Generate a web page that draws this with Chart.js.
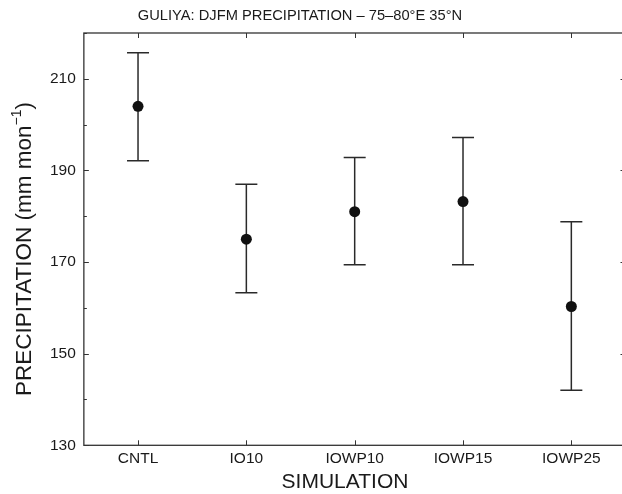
<!DOCTYPE html>
<html>
<head>
<meta charset="utf-8">
<script src="https://cdn.jsdelivr.net/npm/chart.js@4.4.1/dist/chart.umd.min.js"></script>
<style>
  html, body { margin: 0; padding: 0; background: #fff; overflow: hidden; }
  canvas { display: block; }
</style>
</head>
<body>
<canvas id="c" width="638" height="494"></canvas>
<script>
// ---- data ----
const chartTitle = 'GULIYA: DJFM PRECIPITATION \u2013 75\u201380\u00B0E 35\u00B0N';
const xTitle = 'SIMULATION';
const yTitleMain = 'PRECIPITATION (mm mon';
const yTitleSup = '\u22121';
const yTitleEnd = ')';
const categories = ['CNTL', 'IO10', 'IOWP10', 'IOWP15', 'IOWP25'];
const means = [204.0, 175.0, 181.0, 183.2, 160.3];
const upper = [215.7, 187.0, 192.8, 197.2, 178.8];
const lower = [192.1, 163.3, 169.4, 169.4, 142.0];
const yTickValues = [130, 140, 150, 160, 170, 180, 190, 200, 210, 220];
const yLabelValues = [130, 150, 170, 190, 210];

const FONT = '"Liberation Sans", Arial, Helvetica, sans-serif';
const INK = '#1a1a1a';
const AXIS = '#333333';

const errorSets = categories.map((c, i) => ({
  type: 'line',
  label: c + ' range',
  data: [{ x: i + 1, y: lower[i] }, { x: i + 1, y: upper[i] }],
  borderColor: '#2a2a2a',
  borderWidth: 1.5,
  showLine: true,
  pointStyle: 'line',
  pointRadius: 11,
  pointBorderWidth: 1.5,
  pointBorderColor: '#2a2a2a',
  order: 2
}));

const meanSet = {
  type: 'scatter',
  label: 'mean',
  data: means.map((m, i) => ({ x: i + 1, y: m })),
  pointStyle: 'circle',
  pointRadius: 5.5,
  backgroundColor: '#111',
  borderColor: '#111',
  borderWidth: 0,
  order: 1
};

const framePlugin = {
  id: 'frame',
  afterDraw(chart) {
    const { ctx, chartArea: { left, right, top, bottom }, scales: { x, y } } = chart;
    ctx.save();
    ctx.strokeStyle = AXIS;
    ctx.lineWidth = 1.3;
    ctx.strokeRect(left, top, right - left, bottom - top);
    ctx.lineWidth = 1;
    ctx.beginPath();
    y.ticks.forEach(t => {
      const py = Math.round(y.getPixelForValue(t.value)) + 0.5;
      const len = yLabelValues.includes(t.value) ? 5 : 3;
      ctx.moveTo(left, py); ctx.lineTo(left + len, py);
      ctx.moveTo(right, py); ctx.lineTo(right - len, py);
    });
    x.ticks.forEach(t => {
      const px = Math.round(x.getPixelForValue(t.value)) + 0.5;
      ctx.moveTo(px, bottom); ctx.lineTo(px, bottom - 5);
      ctx.moveTo(px, top); ctx.lineTo(px, top + 5);
    });
    ctx.stroke();

    ctx.fillStyle = INK;
    ctx.textBaseline = 'middle';
    // chart title
    ctx.font = '14.7px ' + FONT;
    ctx.textAlign = 'center';
    ctx.fillText(chartTitle, 300, 16);
    // x axis title
    ctx.font = '21px ' + FONT;
    ctx.fillText(xTitle, 345, 482);
    // y axis title (rotated, with superscript)
    const S = 22.5, s = 14;
    ctx.font = S + 'px ' + FONT;
    const w1 = ctx.measureText(yTitleMain).width;
    const w3 = ctx.measureText(yTitleEnd).width;
    ctx.font = s + 'px ' + FONT;
    const w2 = ctx.measureText(yTitleSup).width;
    const total = w1 + w2 + w3;
    ctx.translate(25, 249);
    ctx.rotate(-Math.PI / 2);
    ctx.textAlign = 'left';
    let cx = -total / 2;
    ctx.font = S + 'px ' + FONT;
    ctx.fillText(yTitleMain, cx, 0);
    cx += w1;
    ctx.font = s + 'px ' + FONT;
    ctx.fillText(yTitleSup, cx, -8);
    cx += w2;
    ctx.font = S + 'px ' + FONT;
    ctx.fillText(yTitleEnd, cx, 0);
    ctx.restore();
  }
};

new Chart(document.getElementById('c'), {
  data: { datasets: [...errorSets, meanSet] },
  options: {
    responsive: false,
    animation: false,
    layout: { padding: { left: 42, right: 3, top: 33, bottom: 21 } },
    plugins: { legend: { display: false }, tooltip: { enabled: false }, title: { display: false } },
    scales: {
      x: {
        type: 'linear',
        min: 0.5,
        max: 5.5,
        grid: { display: false, drawTicks: false },
        border: { display: false },
        afterBuildTicks: s => { s.ticks = categories.map((c, i) => ({ value: i + 1 })); },
        ticks: {
          padding: 3,
          color: INK,
          maxRotation: 0,
          font: { family: FONT, size: 15.5, lineHeight: 1.4 },
          callback: v => categories[Math.round(v) - 1] || ''
        },
        title: { display: false }
      },
      y: {
        type: 'linear',
        min: 130,
        max: 220,
        grid: { display: false, drawTicks: false },
        border: { display: false },
        afterBuildTicks: s => { s.ticks = yTickValues.map(v => ({ value: v })); },
        ticks: {
          padding: 8,
          color: INK,
          font: { family: FONT, size: 15.5 },
          callback: v => (yLabelValues.includes(v) ? String(v) : '')
        },
        title: { display: false }
      }
    }
  },
  plugins: [framePlugin]
});
</script>
</body>
</html>
